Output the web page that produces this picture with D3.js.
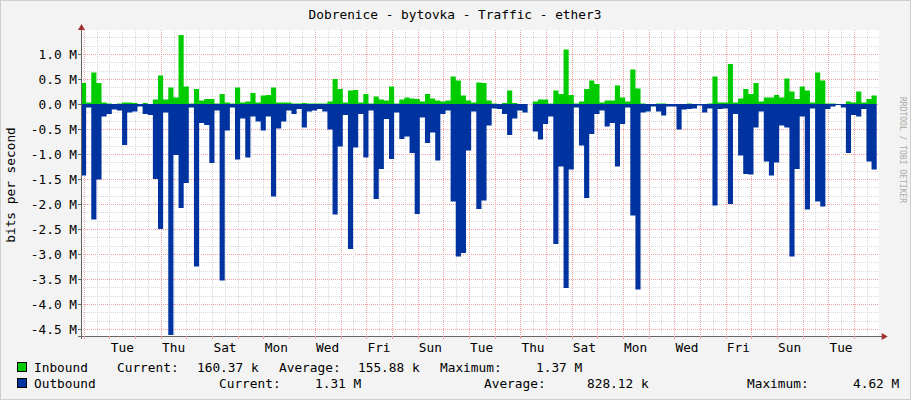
<!DOCTYPE html>
<html><head><meta charset="utf-8">
<script src="https://cdn.jsdelivr.net/npm/d3@7"></script>
<style>
body{margin:0;background:#f3f3f3;}
text{font-family:"DejaVu Sans Mono",monospace;}
</style></head><body>
<svg id="c" width="911" height="400"></svg>
<script>
'use strict';

// samples every 0.2 day (4.8h), values in Mbit/s
var inbound = [0.42,0.03,0.63,0.42,0.03,0.01,0,0.01,0.03,0.03,0.02,0,0.02,0,0.09,0.57,0.09,0.33,0.13,1.38,
  0.35,0.01,0.3,0.07,0.1,0.1,0.01,0.2,0.03,0.01,0.33,0.03,0.05,0.22,0.03,0.17,0.18,0.33,0.03,0.03,
  0.03,0.01,0.01,0.02,0.01,0.01,0.01,0.01,0.05,0.5,0.3,0.03,0.27,0.28,0.03,0.2,0.01,0.15,0.09,0.07,
  0.35,0.01,0.09,0.13,0.11,0.1,0.05,0.2,0.11,0.07,0.05,0.07,0.55,0.47,0.17,0.07,0.03,0.43,0.42,0.07,
  0.01,0,0.02,0.27,0.02,0,0,0,0.05,0.09,0.09,0.01,0.27,0.2,1.09,0.18,0.01,0.05,0.3,0.47,
  0.4,0.03,0.07,0.07,0.37,0.13,0.05,0.69,0.31,0.01,0,0,0.01,0.01,0,0,0,0,0.01,0,
  0,0,0.01,0.55,0.03,0.03,0.8,0.03,0.11,0.3,0.2,0.42,0.05,0.13,0.13,0.18,0.13,0.51,0.25,0.1,
  0.35,0.27,0.03,0.63,0.47,0.01,0.01,0,0,0.05,0.03,0.25,0.03,0.1,0.17];
var outbound = [-1.43,-0.07,-2.31,-1.51,-0.25,-0.2,-0.11,-0.13,-0.82,-0.17,-0.15,-0.05,-0.2,-0.22,-1.5,-2.5,-0.17,-4.62,-1.02,-2.08,
  -1.58,-0.07,-3.25,-0.38,-0.42,-1.18,-0.13,-3.53,-0.53,-0.07,-1.11,-0.29,-1.07,-0.25,-0.35,-0.53,-0.25,-1.85,-0.49,-0.35,
  -0.13,-0.2,-0.1,-0.47,-0.15,-0.13,-0.1,-0.15,-0.51,-2.21,-0.85,-0.22,-2.9,-0.87,-0.2,-1.07,-0.13,-1.9,-1.3,-0.3,
  -1.1,-0.17,-0.7,-0.65,-0.98,-2.2,-0.27,-0.78,-0.57,-1.13,-0.2,-0.13,-1.95,-3.05,-2.98,-0.93,-0.15,-2.1,-1.93,-0.43,
  -0.09,-0.1,-0.2,-0.62,-0.29,-0.13,-0.17,0,-0.55,-0.71,-0.4,-0.25,-2.8,-1.25,-3.68,-1.31,-0.07,-0.83,-1.88,-0.6,
  -0.2,-0.13,-0.45,-0.38,-1.25,-0.4,-0.07,-2.23,-3.71,-0.17,-0.15,-0.05,-0.15,-0.23,-0.05,-0.05,-0.51,-0.11,-0.1,-0.09,
  -0.03,-0.17,-0.09,-2.03,-0.1,-0.09,-2.0,-0.2,-1.03,-1.4,-1.41,-0.47,-0.15,-1.15,-1.43,-1.17,-0.43,-0.47,-3.05,-1.3,
  -0.25,-2.11,-0.09,-1.95,-2.05,-0.1,-0.05,-0.02,-0.07,-0.98,-0.22,-0.25,-0.1,-1.15,-1.31];
var dayLabels = ['Tue','Thu','Sat','Mon','Wed','Fri','Sun','Tue','Thu','Sat','Mon','Wed','Fri','Sun','Tue'];
var yTicks = [1.0,0.5,0.0,-0.5,-1.0,-1.5,-2.0,-2.5,-3.0,-3.5,-4.0,-4.5];
var legendRows = [
  {name:'Inbound', color:'#00cc00', items:[['Current:',117],['160.37 k',197],['Average:',279],['155.88 k',358],['Maximum:',440],['1.37 M',536]]},
  {name:'Outbound', color:'#0033a0', items:[['Current:',219],['1.31 M',315],['Average:',484],['828.12 k',587],['Maximum:',747],['4.62 M',853]]}
];
var step = 0.2, firstMidnight = 0.11;

var svg = d3.select('#c');
var L = 81, R = 876.7, T = 34, B = 336;
var x = d3.scaleLinear().domain([0, inbound.length * step]).range([L, R]);
var y = d3.scaleLinear().domain([1.4, -4.64]).range([T, B]);

svg.append('rect').attr('x',0.5).attr('y',0.5).attr('width',910).attr('height',399)
  .attr('fill','#f3f3f3').attr('stroke','#cfcfcf');
svg.append('rect').attr('x',L).attr('y',T-4).attr('width',R-L+2).attr('height',B-T+4).attr('fill','#fff');

// grid
var g = svg.append('g').attr('shape-rendering','crispEdges');
for (var v = -4.5; v <= 1.34; v += 0.5/3) {
  var isMaj = Math.abs(Math.round(v*2) - v*2) < 1e-6;
  g.append('line').attr('x1',L).attr('x2',R+2).attr('y1',Math.round(y(v))+0.5).attr('y2',Math.round(y(v))+0.5)
    .attr('stroke', isMaj ? '#f0a0a0' : '#d8d8d8').attr('stroke-dasharray','1,1');
}
for (var d = firstMidnight - 0.5; d < inbound.length*step; d += 0.5) {
  if (d < 0) continue;
  var maj = Math.abs(((d - firstMidnight) % 1)) < 1e-6;
  g.append('line').attr('y1',T-4).attr('y2',B).attr('x1',Math.round(x(d))+0.5).attr('x2',Math.round(x(d))+0.5)
    .attr('stroke', maj ? '#f0a0a0' : '#d8d8d8').attr('stroke-dasharray','1,1');
}

// areas
var pts = inbound.map(function (v, i) { return {t:i*step, i:v, o:outbound[i]}; });
pts.push({t:pts.length*step, i:inbound[inbound.length-1], o:outbound[outbound.length-1]});
var inArea = d3.area().curve(d3.curveStepAfter).x(function (d) { return x(d.t); }).y0(y(0)).y1(function (d) { return y(d.i); });
var outArea = d3.area().curve(d3.curveStepAfter).x(function (d) { return x(d.t); }).y0(y(0)).y1(function (d) { return y(d.o); });
svg.append('path').attr('d', inArea(pts)).attr('fill','#00cc00');
svg.append('path').attr('d', outArea(pts)).attr('fill','#0033a0');

// axes
var ax = svg.append('g').attr('shape-rendering','crispEdges');
ax.append('line').attr('x1',L+0.5).attr('x2',L+0.5).attr('y1',T-6).attr('y2',B+3).attr('stroke','#666');
ax.append('line').attr('x1',L-3).attr('x2',R+8).attr('y1',B+0.5).attr('y2',B+0.5).attr('stroke','#666');
svg.append('path').attr('d','M'+(L-3)+','+(T-4)+'L'+(L+0.5)+','+(T-10)+'L'+(L+4)+','+(T-4)+'Z').attr('fill','#a03030');
svg.append('path').attr('d','M'+(R+5)+','+(B-3)+'L'+(R+11)+','+(B+0.5)+'L'+(R+5)+','+(B+4)+'Z').attr('fill','#a03030');
yTicks.forEach(function (v) {
  ax.append('line').attr('x1',L-3).attr('x2',L).attr('y1',Math.round(y(v))+0.5).attr('y2',Math.round(y(v))+0.5).attr('stroke','#666');
  svg.append('text').attr('x',L-4).attr('y',y(v)+4.5).attr('text-anchor','end').attr('font-size',12.8).attr('fill','#000')
    .text((v < 0 ? '-' : '') + Math.abs(v).toFixed(1) + ' M');
});
for (var m = firstMidnight; m < inbound.length*step; m += 1) {
  ax.append('line').attr('x1',Math.round(x(m))+0.5).attr('x2',Math.round(x(m))+0.5).attr('y1',B).attr('y2',B+3).attr('stroke','#f0a0a0');
}
dayLabels.forEach(function (lab, k) {
  svg.append('text').attr('x', x(firstMidnight + 1.5 + 2*k)).attr('y', 352).attr('text-anchor','middle')
    .attr('font-size',12.8).text(lab);
});

// titles
svg.append('text').attr('x',455).attr('y',19).attr('text-anchor','middle').attr('font-size',12.8).text('Dobrenice - bytovka - Traffic - ether3');
svg.append('text').attr('transform','translate(15,185) rotate(-90)').attr('text-anchor','middle').attr('font-size',12.8).text('bits per second');
svg.append('text').attr('transform','translate(900,150) rotate(90)').attr('text-anchor','middle').attr('font-size',8).attr('fill','#aaa').text('RRDTOOL / TOBI OETIKER');

// legend
legendRows.forEach(function (r, k) {
  var ly = 368 + k*16;
  svg.append('rect').attr('x',17.5).attr('y',ly-5.5).attr('width',9).attr('height',9).attr('fill',r.color).attr('stroke','#000');
  svg.append('text').attr('x',34).attr('y',ly+4).attr('font-size',12.8).text(r.name);
  r.items.forEach(function (it) {
    svg.append('text').attr('x',it[1]).attr('y',ly+4).attr('font-size',12.8).text(it[0]);
  });
});
</script></body></html>
